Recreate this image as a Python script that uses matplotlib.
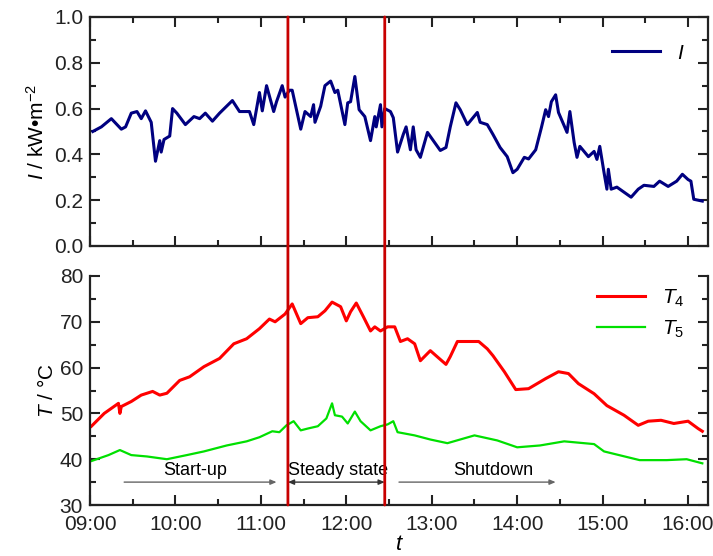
import matplotlib
matplotlib.use("Agg")
import matplotlib.pyplot as plt
from matplotlib.patches import ConnectionPatch
from matplotlib.ticker import MultipleLocator, FuncFormatter

plt.rcParams['font.family'] = ['Liberation Sans', 'DejaVu Sans']
plt.rcParams['mathtext.fontset'] = 'custom'
plt.rcParams['mathtext.rm'] = 'Liberation Sans'
plt.rcParams['mathtext.it'] = 'Liberation Sans:italic'

# time in minutes after 09:00
irr_t = [2, 8, 15, 22, 25, 29, 33, 36, 39, 43, 46, 49, 50, 52, 56, 58, 61, 67, 73, 77,
         81, 86, 91, 100, 105, 112, 115, 119, 121, 124, 129, 131, 135, 137, 140, 142, 148,
         151, 155, 157, 158, 162, 165, 169, 172, 174, 179, 181, 183, 186, 189, 193, 197,
         200, 201, 204, 205, 207, 211, 213, 216, 220, 222, 225, 227, 229, 232, 237, 242,
         246, 250, 253, 257, 260, 265, 272, 274, 279, 283, 288, 293, 297, 300, 305, 308,
         313, 317, 320, 322, 324, 327, 329, 335, 337, 340, 342, 344, 350, 354, 356, 358,
         361, 363, 364, 366, 370, 380, 385, 389, 396, 400, 406, 412, 416, 420, 422, 424, 430]
irr = [0.50, 0.52, 0.556, 0.51, 0.52, 0.58, 0.587, 0.556, 0.59, 0.54, 0.37, 0.46, 0.41,
       0.465, 0.48, 0.60, 0.58, 0.53, 0.565, 0.556, 0.58, 0.545, 0.58, 0.635, 0.587, 0.587,
       0.53, 0.67, 0.59, 0.70, 0.587, 0.63, 0.70, 0.65, 0.68, 0.68, 0.51, 0.587, 0.565,
       0.617, 0.54, 0.61, 0.70, 0.72, 0.67, 0.68, 0.53, 0.625, 0.63, 0.74, 0.595, 0.565,
       0.46, 0.565, 0.52, 0.617, 0.52, 0.60, 0.587, 0.56, 0.41, 0.487, 0.52, 0.42, 0.52,
       0.42, 0.387, 0.496, 0.452, 0.417, 0.43, 0.52, 0.625, 0.595, 0.53, 0.583, 0.54, 0.53,
       0.487, 0.43, 0.39, 0.32, 0.335, 0.387, 0.38, 0.42, 0.517, 0.595, 0.565, 0.63, 0.66,
       0.583, 0.496, 0.587, 0.452, 0.387, 0.435, 0.39, 0.413, 0.378, 0.435, 0.32, 0.248,
       0.335, 0.248, 0.257, 0.213, 0.248, 0.265, 0.26, 0.283, 0.26, 0.283, 0.313, 0.29,
       0.283, 0.204, 0.196]

t4_t = [1, 10, 20, 21, 22, 29, 36, 44, 49, 54, 63, 70, 80, 91, 101, 110, 119, 126, 130,
        137, 142, 148, 153, 160, 165, 170, 176, 180, 183, 187, 192, 197, 200, 204, 209,
        214, 218, 223, 228, 232, 239, 243, 250, 253, 258, 265, 273, 279, 283, 291, 299,
        308, 320, 329, 336, 343, 354, 363, 375, 385, 392, 401, 410, 420, 427, 430]
t4 = [47.2, 50.0, 52.2, 50.0, 51.5, 52.6, 54.0, 54.8, 54.0, 54.4, 57.2, 58.0, 60.2, 62.0,
      65.2, 66.3, 68.5, 70.6, 70.0, 71.7, 73.9, 69.6, 70.9, 71.1, 72.4, 74.3, 73.3, 70.2,
      72.2, 74.1, 71.1, 68.0, 68.9, 68.0, 68.9, 68.9, 65.7, 66.3, 65.2, 61.5, 63.7, 62.6,
      60.7, 62.4, 65.7, 65.7, 65.7, 64.1, 62.6, 59.1, 55.2, 55.4, 57.6, 59.1, 58.7, 56.5,
      54.3, 51.7, 49.6, 47.4, 48.3, 48.5, 47.8, 48.3, 46.7, 46.1]

t5_t = [1, 13, 21, 29, 40, 54, 68, 80, 96, 110, 119, 128, 133, 138, 143, 148, 153, 160,
        166, 170, 172, 177, 181, 186, 190, 197, 204, 209, 213, 216, 228, 239, 251, 270,
        286, 300, 316, 333, 354, 361, 386, 405, 419, 430]
t5 = [39.6, 40.9, 42.0, 40.9, 40.6, 40.0, 40.9, 41.7, 43.0, 43.9, 44.8, 46.1, 45.9, 47.4,
      48.3, 46.3, 46.7, 47.2, 48.9, 52.2, 49.6, 49.3, 47.8, 50.4, 48.3, 46.3, 47.2, 47.6,
      48.3, 45.9, 45.2, 44.3, 43.5, 45.2, 44.1, 42.6, 43.0, 43.9, 43.3, 41.7, 39.8, 39.8,
      40.0, 39.1]

# stage boundaries (minutes after 09:00)
stage_bounds = [139, 207]
stages = ["Start-up", "Steady state", "Shutdown"]
stage_spans = [(24, 131), (139, 207), (217, 327)]
stage_text_x = [74, 174, 283]

t_end = 434


def hhmm(x, pos):
    m = int(round(x)) + 9 * 60
    return "%02d:%02d" % (m // 60, m % 60)


fig = plt.figure(figsize=(7.13, 5.56), dpi=100)
ax1 = fig.add_axes([0.1262, 0.5576, 0.8668, 0.4119])
ax2 = fig.add_axes([0.1262, 0.0917, 0.8668, 0.4119])

tick_col = '#222222'
for ax in (ax1, ax2):
    ax.set_xlim(0, t_end)
    ax.xaxis.set_major_locator(MultipleLocator(60))
    ax.xaxis.set_minor_locator(MultipleLocator(30))
    ax.tick_params(which='both', direction='in', right=True, width=1.5, colors=tick_col)
    ax.tick_params(axis='y', labelsize=15, pad=5)
    ax.tick_params(axis='x', labelsize=15, pad=7)
    ax.tick_params(which='major', length=7)
    ax.tick_params(which='minor', length=4)
    for s in ax.spines.values():
        s.set_linewidth(1.6)
        s.set_color('#222222')

# irradiance
ax1.plot(irr_t, irr, color='#000080', lw=2.2, label='$I$')
ax1.set_ylim(0, 1.0)
ax1.yaxis.set_major_locator(MultipleLocator(0.2))
ax1.yaxis.set_minor_locator(MultipleLocator(0.1))
ax1.yaxis.set_major_formatter(FuncFormatter(lambda v, p: "%.1f" % v))
ax1.tick_params(which='both', top=True, labelbottom=False)
ax1.set_ylabel('$I$ / kW\u2022m$^{-2}$', fontsize=15, labelpad=4)
ax1.legend(loc='upper right', frameon=False, fontsize=15, handlelength=2.3,
           borderaxespad=0.6, bbox_to_anchor=(0.995, 0.975))

# temperatures
ax2.plot(t4_t, t4, color='#ff0000', lw=2.2, label='$T_4$')
ax2.plot(t5_t, t5, color='#00e000', lw=1.6, label='$T_5$')
ax2.set_ylim(30, 80)
ax2.yaxis.set_major_locator(MultipleLocator(10))
ax2.yaxis.set_minor_locator(MultipleLocator(5))
ax2.spines['top'].set_visible(False)
ax2.xaxis.set_major_formatter(FuncFormatter(hhmm))
ax2.set_ylabel('$T$ / \u00b0C', fontsize=15, labelpad=2)
ax2.set_xlabel('$t$', fontsize=16, labelpad=0)
ax2.legend(loc='upper right', frameon=False, fontsize=15, handlelength=2.3,
           labelspacing=0.45, borderaxespad=0.6, bbox_to_anchor=(0.995, 1.04))

# stage arrows and labels
arrow_y = 35
for (a, b), name, tx in zip(stage_spans, stages, stage_text_x):
    style = '<|-|>' if name == "Steady state" else '-|>'
    col = '#333333' if name == "Steady state" else '#666666'
    ax2.annotate('', xy=(b, arrow_y), xytext=(a, arrow_y),
                 arrowprops=dict(arrowstyle=style + ',head_length=0.35,head_width=0.15',
                                 color=col, lw=1, shrinkA=0, shrinkB=0))
    ax2.text(tx, 37.6, name, ha='center', va='center', fontsize=13, color='black')

# stage boundaries through both panels
for b in stage_bounds:
    con = ConnectionPatch(xyA=(b, 1.0), coordsA=ax1.transData,
                          xyB=(b, 30), coordsB=ax2.transData,
                          color='#c80000', lw=2, zorder=5)
    fig.add_artist(con)

fig.savefig('out.png', dpi=100)
